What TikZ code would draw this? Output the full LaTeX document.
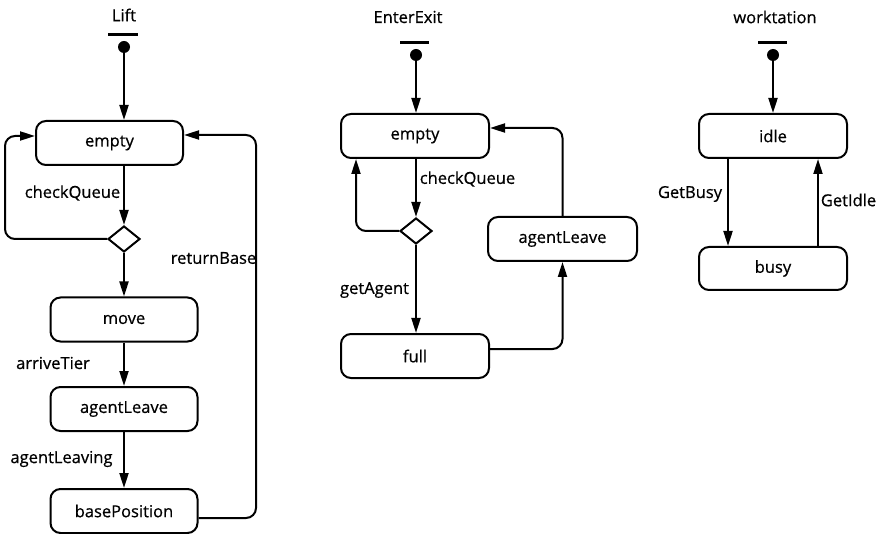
\documentclass[tikz,border=0pt]{standalone}
\usepackage{fontspec}
\setmainfont{Open Sans}[FakeBold=0.6]
\usetikzlibrary{shapes.geometric,arrows.meta}

\tikzset{
  state/.style={draw, line width=2pt, rounded corners=10pt, minimum width=147pt,
    minimum height=44pt, inner sep=0pt},
  choice/.style={draw, diamond, line width=2pt, minimum width=32pt, minimum height=26pt,
    inner sep=0pt},
  trans/.style={line width=2pt, -{Triangle[length=15pt, width=9pt]}},
  startdot/.style={circle, fill, inner sep=0pt, minimum size=12pt},
  startbar/.style={line width=3pt},
  lbl/.style={inner sep=0pt}
}

\begin{document}
\begin{tikzpicture}[x=1pt, y=-1pt, font=\fontsize{16.5}{18}\selectfont]
  \useasboundingbox (0,0) rectangle (880,534);

  % Lift
  \node[lbl] (liftTitle) at (124,15) {Lift};
  \draw[startbar] (108,35) -- (138,35);
  \node[startdot] (liftStart) at (124,47) {};
  \node[state] (liftEmpty) at (109.5,143) {empty};
  \node[choice] (liftChoice) at (124,239) {};
  \node[state] (liftMove) at (124,319.5) {move};
  \node[state] (liftLeave) at (124,409) {agentLeave};
  \node[state] (liftBase) at (124,511) {basePosition};

  \draw[trans] (liftStart) -- (liftStart |- liftEmpty.north);
  \draw[trans] (liftEmpty.south -| liftChoice) -- (liftChoice.north);
  \node[lbl] (liftCheck) at (72.5,193) {checkQueue};
  \draw[trans, rounded corners=10pt] (liftChoice.west) -- (5,239) |- ([yshift=7pt]liftEmpty.west);
  \draw[trans] (liftChoice.south) -- (liftChoice.south |- liftMove.north);
  \draw[trans] (liftMove.south) -- (liftLeave.north);
  \node[lbl] (liftArrive) at (53,363) {arriveTier};
  \draw[trans] (liftLeave.south) -- (liftBase.north);
  \node[lbl] (liftLeaving) at (61.5,459) {agentLeaving};
  \draw[trans, rounded corners=10pt] ([yshift=-7pt]liftBase.east) -| (256,300) |- ([yshift=8pt]liftEmpty.east);
  \node[lbl] (liftReturn) at (213.5,258) {returnBase};

  % EnterExit
  \node[lbl] (eeTitle) at (408,17) {EnterExit};
  \draw[startbar] (400,43) -- (429,43);
  \node[startdot] (eeStart) at (416,55) {};
  \node[state, minimum width=148pt] (eeEmpty) at (415,136) {empty};
  \node[choice] (eeChoice) at (416,231) {};
  \node[state, minimum width=148pt] (eeFull) at (415,356) {full};
  \node[state, minimum width=149pt] (eeLeave) at (562.5,239) {agentLeave};

  \draw[trans] (eeStart) -- (eeStart |- eeEmpty.north);
  \draw[trans] (eeEmpty.south -| eeChoice) -- (eeChoice.north);
  \node[lbl] (eeCheck) at (467.5,179) {checkQueue};
  \draw[trans, rounded corners=10pt] (eeChoice.west) -| ([xshift=-59pt]eeEmpty.south);
  \draw[trans] (eeChoice.south) -- (eeChoice.south |- eeFull.north);
  \node[lbl] (eeGet) at (374.5,290) {getAgent};
  \draw[trans, rounded corners=10pt] ([yshift=7pt]eeFull.east) -| (eeLeave.south);
  \draw[trans, rounded corners=10pt] (eeLeave.north) |- ([yshift=8pt]eeEmpty.east);

  % worktation
  \node[lbl] (wsTitle) at (775,17) {worktation};
  \draw[startbar] (758,43) -- (787,43);
  \node[startdot] (wsStart) at (773,55) {};
  \node[state, minimum width=148pt] (wsIdle) at (773,136) {idle};
  \node[state, minimum width=148pt, minimum height=43pt] (wsBusy) at (773,268.5) {busy};

  \draw[trans] (wsStart) -- (wsIdle.north);
  \draw[trans] ([xshift=-45pt]wsIdle.south) -- ([xshift=-45pt]wsBusy.north);
  \node[lbl] (wsGetBusy) at (690,194) {GetBusy};
  \draw[trans] ([xshift=45pt]wsBusy.north) -- ([xshift=45pt]wsIdle.south);
  \node[lbl] (wsGetIdle) at (848.5,200) {GetIdle};
\end{tikzpicture}
\end{document}
